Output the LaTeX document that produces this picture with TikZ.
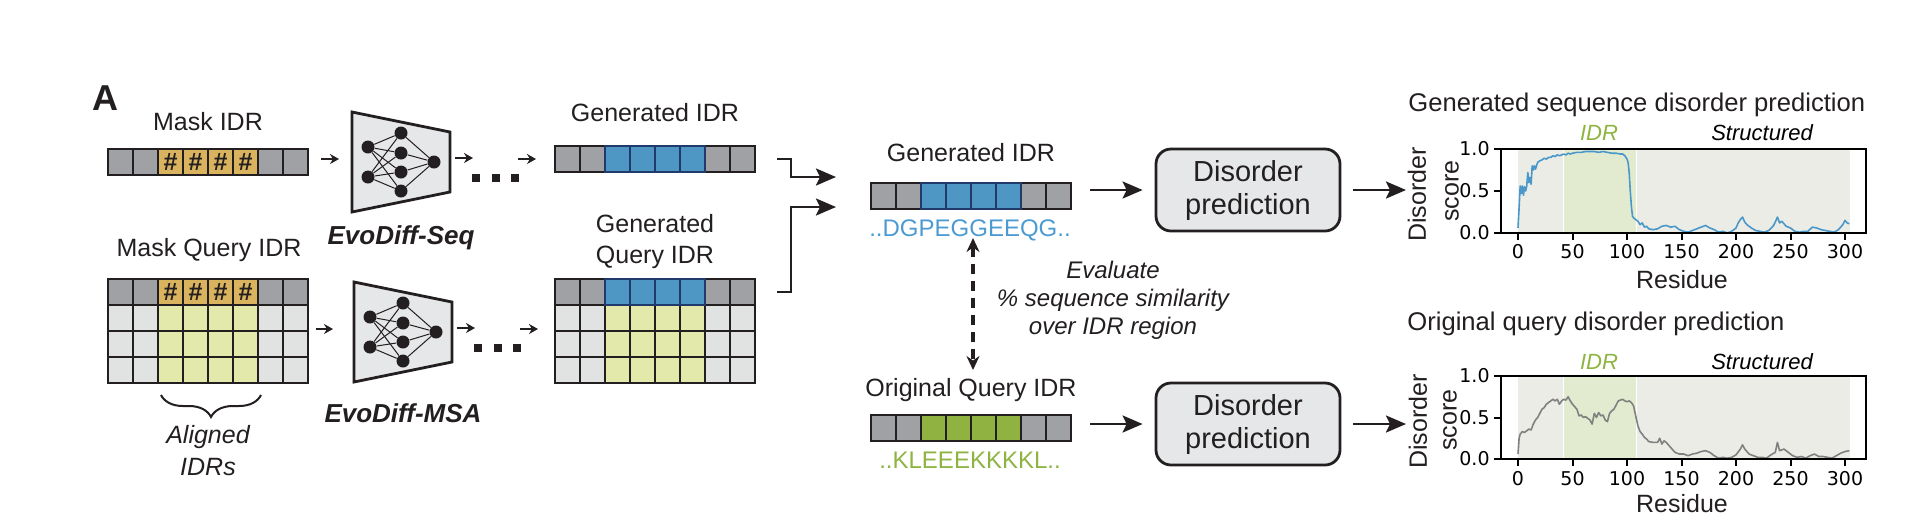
\documentclass[tikz,border=0pt]{standalone}
\usepackage{fontspec}
\setmainfont{Liberation Sans}
\newfontfamily\tickfont{DejaVu Sans}
\usepackage{xcolor}
\usepackage{tikz}
\usetikzlibrary{arrows.meta, positioning, decorations.pathreplacing}

\definecolor{ink}{HTML}{231F20}
\definecolor{cellgrey}{HTML}{A0A1A4}
\definecolor{cellpale}{HTML}{E1E3E2}
\definecolor{maskgold}{HTML}{DAB35E}
\definecolor{alnlime}{HTML}{E3E9AB}
\definecolor{genblue}{HTML}{4E97C5}
\definecolor{genedge}{HTML}{1F3A6B}
\definecolor{origgreen}{HTML}{8FB241}
\definecolor{boxgrey}{HTML}{E6E7E8}
\definecolor{bggrey}{HTML}{ECECE6}
\definecolor{bggreen}{HTML}{E2EBD0}
\definecolor{seqblue}{HTML}{4B9BD2}
\definecolor{idrgreen}{HTML}{8DB440}
\definecolor{lineblue}{HTML}{4A98C9}
\definecolor{linegrey}{HTML}{808080}

\begin{document}
\begin{tikzpicture}[
        x=0.5pt, y=-0.5pt,
        every node/.style={inner sep=0pt, text=ink},
        lbl/.style={font=\fontsize{12.5}{15.5}\selectfont, align=center},
        model/.style={font=\bfseries\itshape\fontsize{13}{13}\selectfont},
        seqtxt/.style={font=\fontsize{12}{12}\selectfont},
        cell/.style={draw=ink, line width=1.1pt, minimum width=12.5pt, minimum height=13pt, outer sep=0pt},
        greycell/.style={cell, fill=cellgrey},
        palecell/.style={cell, fill=cellpale},
        maskcell/.style={cell, fill=maskgold, font=\bfseries\fontsize{12.5}{12.5}\selectfont},
        limecell/.style={cell, fill=alnlime},
        bluecell/.style={cell, fill=genblue, draw=genedge},
        greencell/.style={cell, fill=origgreen},
        neuron/.style={circle, fill=ink, minimum size=6.5pt},
        net/.style={draw=ink, fill=boxgrey, line width=1.4pt, line join=miter},
        smallarrow/.style={-{Stealth[length=4.5pt, width=5pt]}, line width=0.7pt, draw=ink},
        bigarrow/.style={-{Stealth[length=10pt, width=8.5pt, inset=2pt]}, line width=1.3pt, draw=ink, line join=miter},
        dasharrow/.style={{Stealth[length=7pt, width=6.5pt]}-{Stealth[length=7pt, width=6.5pt]}, dash pattern=on 5pt off 3.5pt, line width=1.6pt, draw=ink},
        dbox/.style={draw=ink, fill=boxgrey, line width=1.4pt, rounded corners=7.5pt, minimum width=92pt, minimum height=41pt, align=center, font=\fontsize{14.5}{16.5}\selectfont},
        frame/.style={draw=black, line width=1pt},
        ticklbl/.style={font=\tickfont\fontsize{9.5}{9.5}\selectfont, text=black},
        axlbl/.style={font=\fontsize{12.5}{12.5}\selectfont},
        regionlbl/.style={font=\itshape\fontsize{11}{11}\selectfont, text=black},
    ]
    \useasboundingbox (0,0) rectangle (1923,527);

    \node[font=\bfseries\fontsize{18}{18}\selectfont] (panel) at (105,98) {A};

    % masked inputs
    \node[lbl] (maskl) at (208,122) {Mask IDR};
    \foreach \i in {1,2,7,8} \node[greycell] (m\i) at ({95.5+25*\i},162) {};
    \foreach \i in {3,...,6} \node[maskcell] (m\i) at ({95.5+25*\i},162) {\#};

    \node[lbl] (mql) at (209,250) {Mask Query IDR};
    \foreach \i in {1,2,7,8} {
        \node[greycell] (q1\i) at ({95.5+25*\i},292) {};
        \foreach \r in {2,3,4} \node[palecell] (q\r\i) at ({95.5+25*\i},{266+26*\r}) {};
    }
    \foreach \i in {3,...,6} {
        \node[maskcell] (q1\i) at ({95.5+25*\i},292) {\#};
        \foreach \r in {2,3,4} \node[limecell] (q\r\i) at ({95.5+25*\i},{266+26*\r}) {};
    }
    \draw[ink, line width=1pt, decorate, decoration={brace, amplitude=11pt, mirror}] (161,395) -- (261,395);
    \node[lbl, font=\itshape\fontsize{12.5}{16}\selectfont] (aligned) at (208,451) {Aligned\\IDRs};

    \draw[smallarrow] ([xshift=6.5pt, yshift=1.5pt]m8.east) -- ++(18,0);
    \draw[smallarrow] ([xshift=4pt, yshift=1pt]q28.south east) -- ++(17,0);

    % the two models
    \foreach \n/\dx/\dy in {s/0/0, a/2/170} {
        \begin{scope}[shift={(\dx,\dy)}]
            \draw[net] (352,112) -- (450,132) -- (450,192) -- (352,212) -- cycle;
            \node[neuron] (\n i1) at (368,147) {};
            \node[neuron] (\n i2) at (368,177) {};
            \node[neuron] (\n h1) at (401,133) {};
            \node[neuron] (\n h2) at (401,153) {};
            \node[neuron] (\n h3) at (401,172) {};
            \node[neuron] (\n h4) at (401,191) {};
            \node[neuron] (\n o) at (434,162) {};
            \foreach \a in {1,2}
                \foreach \b in {1,...,4}
                    \draw[ink, line width=0.5pt] (\n i\a) -- (\n h\b);
            \foreach \b in {1,...,4}
                \draw[ink, line width=0.5pt] (\n h\b) -- (\n o);
            \coordinate (\n r) at (455,158);
            \draw[smallarrow] (\n r) -- ++(18,0);
            \foreach \x in {476,496,515}
                \fill[ink] ({\x-4},174) rectangle ++(8,8);
            \coordinate (\n d) at (518,159);
            \draw[smallarrow] (\n d) -- ++(18,0);
        \end{scope}
    }
    \node[model] (seq) at (401,238) {EvoDiff-Seq};
    \node[model] (msa) at (403,413) {EvoDiff-MSA};

    % generated outputs
    \node[lbl] (genl) at (655,113) {Generated IDR};
    \foreach \i in {1,2,7,8} \node[greycell] (g\i) at ({542.5+25*\i},159) {};
    \foreach \i in {3,...,6} \node[bluecell] (g\i) at ({542.5+25*\i},159) {};

    \node[lbl] (gql) at (655,242) {Generated\\Query IDR};
    \foreach \i in {1,2,7,8} {
        \node[greycell] (gq1\i) at ({542.5+25*\i},292) {};
        \foreach \r in {2,3,4} \node[palecell] (gq\r\i) at ({542.5+25*\i},{266+26*\r}) {};
    }
    \foreach \i in {3,...,6} {
        \foreach \r in {2,3,4} \node[limecell] (gq\r\i) at ({542.5+25*\i},{266+26*\r}) {};
        \node[bluecell] (gq1\i) at ({542.5+25*\i},292) {};
    }

    \coordinate (j1) at (791,177);
    \coordinate (e1) at (836,177);
    \coordinate (j2) at (791,207);
    \coordinate (e2) at (836,207);
    \draw[bigarrow] ([xshift=11pt]g8.east) -| (j1) -- (e1);
    \draw[bigarrow] ([xshift=11pt]gq18.east) -| (j2) -- (e2);

    % comparison
    \node[lbl] (midl) at (971,153) {Generated IDR};
    \foreach \i in {1,2,7,8} \node[greycell] (c\i) at ({858.5+25*\i},196) {};
    \foreach \i in {3,...,6} \node[bluecell] (c\i) at ({858.5+25*\i},196) {};
    \node[seqtxt, text=seqblue] (gseq) at (970,230) {..DGPEGGEEQG..};

    \coordinate (da) at (973,238);
    \coordinate (db) at (973,370);
    \draw[dasharrow] (da) -- (db);
    \node[lbl, font=\itshape\fontsize{12}{14}\selectfont] (eval) at (1113,300) {Evaluate\\\% sequence similarity\\over IDR region};

    \node[lbl] (oql) at (971,390) {Original Query IDR};
    \foreach \i in {1,2,7,8} \node[greycell] (o\i) at ({858.5+25*\i},428) {};
    \foreach \i in {3,...,6} \node[greencell] (o\i) at ({858.5+25*\i},428) {};
    \node[seqtxt, text=idrgreen] (oseq) at (970,460) {..KLEEEKKKKL..};

    % disorder prediction
    \node[dbox] (dp1) at (1248,190) {Disorder\\prediction};
    \node[dbox] (dp2) at (1248,424) {Disorder\\prediction};
    \draw[bigarrow, shorten <=9.5pt, shorten >=6pt] (c8.east |- dp1.west) -- (dp1.west);
    \draw[bigarrow, shorten <=9.5pt, shorten >=6pt] (o8.east |- dp2.west) -- (dp2.west);
    \coordinate (p1) at (1406,190);
    \coordinate (p2) at (1406,424);
    \draw[bigarrow, shorten <=6pt] (dp1.east) -- (p1);
    \draw[bigarrow, shorten <=6pt] (dp2.east) -- (p2);

    % generated sequence plot
    \node[lbl, anchor=west, font=\fontsize{12.8}{12.8}\selectfont] (t1) at (1408,105) {Generated sequence disorder prediction};
    \begin{scope}[shift={(1518,233)}, x=0.545pt, y=42pt]
        \fill[bggrey] (0,0) rectangle (305,1);
        \fill[bggreen] (42,0) rectangle (109,1);
        \draw[white, line width=0.6pt] (42,0) -- (42,1) (109,0) -- (109,1);
        \draw[lineblue, line width=0.8pt, line join=round] plot coordinates {
            (0,0.06) (1,0.3) (2,0.56) (3,0.47) (4,0.56) (5,0.45) (6,0.55) (7,0.5) (8,0.56) (9,0.72)
            (10,0.6) (11,0.66) (12,0.58) (13,0.8) (14,0.75) (15,0.8) (16,0.76) (18,0.84) (20,0.86)
            (22,0.87) (24,0.89) (26,0.88) (28,0.9) (30,0.9) (32,0.92) (34,0.91) (36,0.93) (38,0.92)
            (40,0.93) (42,0.94) (44,0.93) (46,0.95) (48,0.94) (50,0.95) (54,0.96) (58,0.96) (62,0.97)
            (66,0.97) (70,0.97) (74,0.96) (78,0.97) (82,0.96) (86,0.95) (90,0.95) (94,0.94) (96,0.94)
            (98,0.92) (100,0.88) (101,0.84) (102,0.72) (103,0.5) (104,0.32) (105,0.2) (106,0.18)
            (108,0.16) (110,0.14) (112,0.1) (114,0.12) (116,0.07) (118,0.08) (120,0.05) (124,0.04)
            (128,0.05) (132,0.08) (136,0.09) (140,0.07) (144,0.08) (148,0.04) (152,0.02) (156,0.01)
            (160,0.03) (164,0.05) (168,0.07) (172,0.09) (176,0.06) (180,0.04) (184,0.01) (188,0.02)
            (192,0.0) (196,0.02) (200,0.06) (202,0.12) (204,0.16) (206,0.19) (208,0.13) (210,0.1)
            (214,0.06) (218,0.03) (222,0.02) (226,0.01) (230,0.03) (234,0.08) (236,0.13) (238,0.19)
            (240,0.12) (242,0.14) (246,0.08) (250,0.06) (254,0.02) (258,0.01) (262,0.02) (266,0.02)
            (270,0.07) (274,0.06) (278,0.04) (282,0.03) (286,0.02) (290,0.01) (294,0.04) (298,0.1)
            (300,0.15) (302,0.12) (304,0.11)};
        \draw[frame] (-15.6,0) rectangle (319.3,1);
        \foreach \v in {0.0,0.5,1.0} {
            \draw[frame] (-15.6,\v) -- ++(-6.4,0);
            \node[ticklbl, anchor=east] at (-25.7,\v) {\v};
        }
        \foreach \r in {0,50,...,300} {
            \draw[frame] (\r,0) -- ++(0,-0.083);
            \node[ticklbl] at (\r,-0.226) {\r};
        }
        \node[axlbl] (res1) at (150.5,-0.56) {Residue};
        \node[axlbl, rotate=90] (dis1) at (-92.7,0.46) {Disorder};
        \node[axlbl, rotate=90] (sco1) at (-60.6,0.5) {score};
        \node[regionlbl, text=idrgreen] (idr1) at (74.3,1.19) {IDR};
        \node[regionlbl] (str1) at (223.9,1.19) {Structured};
    \end{scope}

    % original query plot
    \node[lbl, anchor=west, font=\fontsize{12.8}{12.8}\selectfont] (t2) at (1407,324) {Original query disorder prediction};
    \begin{scope}[shift={(1518,459)}, x=0.545pt, y=41.5pt]
        \fill[bggrey] (0,0) rectangle (305,1);
        \fill[bggreen] (42,0) rectangle (109,1);
        \draw[white, line width=0.6pt] (42,0) -- (42,1) (109,0) -- (109,1);
        \draw[linegrey, line width=0.8pt, line join=round] plot coordinates {
            (0,0.06) (1,0.25) (2,0.3) (4,0.33) (6,0.32) (8,0.34) (10,0.36) (12,0.35) (14,0.42)
            (16,0.47) (18,0.5) (20,0.55) (22,0.6) (24,0.62) (26,0.66) (28,0.68) (30,0.7) (32,0.72)
            (34,0.7) (36,0.72) (38,0.66) (40,0.7) (42,0.72) (44,0.71) (46,0.75) (48,0.7) (50,0.66)
            (52,0.63) (54,0.6) (56,0.52) (58,0.53) (60,0.5) (62,0.51) (64,0.49) (66,0.47) (68,0.42)
            (70,0.55) (72,0.5) (74,0.56) (76,0.52) (78,0.53) (80,0.47) (82,0.45) (84,0.55) (86,0.58)
            (88,0.6) (90,0.65) (92,0.7) (94,0.71) (96,0.72) (98,0.7) (100,0.69) (102,0.7) (104,0.68)
            (106,0.64) (108,0.52) (110,0.4) (112,0.33) (114,0.3) (116,0.26) (118,0.24) (120,0.21)
            (124,0.2) (128,0.2) (130,0.25) (132,0.18) (134,0.22) (136,0.2) (140,0.14) (144,0.08)
            (148,0.06) (152,0.06) (156,0.04) (160,0.06) (164,0.07) (168,0.09) (172,0.1) (176,0.08)
            (180,0.04) (184,0.01) (188,0.02) (192,0.01) (196,0.02) (200,0.05) (204,0.12) (206,0.17)
            (208,0.12) (212,0.06) (216,0.04) (220,0.02) (224,0.02) (228,0.01) (232,0.05) (236,0.08)
            (238,0.2) (240,0.1) (244,0.12) (248,0.08) (252,0.04) (256,0.02) (260,0.03) (264,0.01)
            (268,0.04) (272,0.06) (276,0.03) (280,0.03) (284,0.02) (288,0.01) (292,0.04) (296,0.07)
            (300,0.09) (304,0.1)};
        \draw[frame] (-15.6,0) rectangle (319.3,1);
        \foreach \v in {0.0,0.5,1.0} {
            \draw[frame] (-15.6,\v) -- ++(-6.4,0);
            \node[ticklbl, anchor=east] at (-25.7,\v) {\v};
        }
        \foreach \r in {0,50,...,300} {
            \draw[frame] (\r,0) -- ++(0,-0.083);
            \node[ticklbl] at (\r,-0.23) {\r};
        }
        \node[axlbl] (res2) at (150.5,-0.54) {Residue};
        \node[axlbl, rotate=90] (dis2) at (-91.7,0.45) {Disorder};
        \node[axlbl, rotate=90] (sco2) at (-62.4,0.47) {score};
        \node[regionlbl, text=idrgreen] (idr2) at (74.3,1.17) {IDR};
        \node[regionlbl] (str2) at (223.9,1.17) {Structured};
    \end{scope}
\end{tikzpicture}
\end{document}
